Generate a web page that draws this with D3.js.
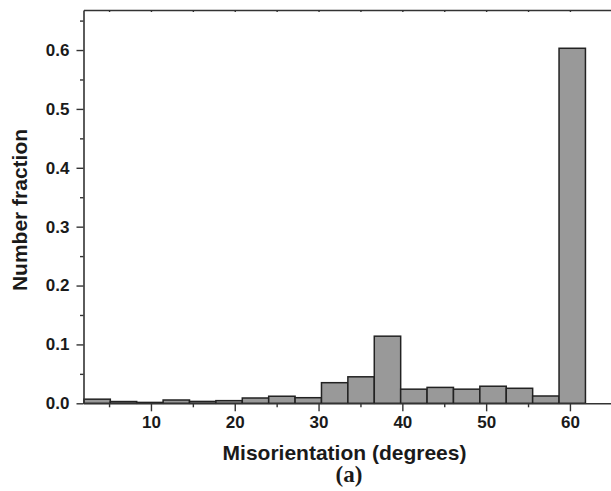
<!DOCTYPE html>
<html><head><meta charset="utf-8">
<script src="https://cdn.jsdelivr.net/npm/d3@7"></script>
<style>body{margin:0;background:#fff}svg{display:block}</style>
</head><body>
<script>
const binStarts = [2.0, 5.15, 8.3, 11.45, 14.6, 17.75, 20.9, 24.05, 27.2, 30.35, 33.5, 36.65, 39.8, 42.95, 46.1, 49.25, 52.4, 55.55, 58.7];
const binWidth = 3.15;
const fractions = [0.007, 0.003, 0.0015, 0.0056, 0.0032, 0.0045, 0.009, 0.012, 0.0095, 0.035, 0.045, 0.114, 0.024, 0.027, 0.024, 0.029, 0.0255, 0.0124, 0.603];
const xMajor = [10, 20, 30, 40, 50, 60];
const xMinor = [5, 15, 25, 35, 45, 55];
const yMajor = [0, 0.1, 0.2, 0.3, 0.4, 0.5, 0.6];
const yMinor = [0.05, 0.15, 0.25, 0.35, 0.45, 0.55, 0.65];

const W = 611, H = 491;
const L = 83.5, T = 10, B = 403.3, R = 611;
const svg = d3.select("body").append("svg").attr("width", W).attr("height", H);
const x = d3.scaleLinear().domain([1.95, 64.9]).range([L, R]);
const y = d3.scaleLinear().domain([0, 0.668]).range([B, T]);
const font = "'Liberation Sans', Arial, Helvetica, sans-serif";

// bars
svg.append("g").selectAll("rect").data(fractions).join("rect")
  .attr("x", (d, i) => x(binStarts[i]))
  .attr("width", (d, i) => x(binStarts[i] + binWidth) - x(binStarts[i]))
  .attr("y", d => y(d))
  .attr("height", d => y(0) - y(d))
  .attr("fill", "#999999").attr("stroke", "#222").attr("stroke-width", 1.5);

// x axis
svg.append("g").attr("transform", `translate(0,${B})`)
  .call(d3.axisBottom(x).tickValues(xMajor).tickSize(8).tickPadding(5).tickSizeOuter(0));
svg.append("g").attr("transform", `translate(0,${B})`)
  .call(d3.axisBottom(x).tickValues(xMinor).tickSize(4).tickFormat("").tickSizeOuter(0))
  .select(".domain").remove();
// y axis
svg.append("g").attr("transform", `translate(${L},0)`)
  .call(d3.axisLeft(y).tickValues(yMajor).tickSize(7).tickPadding(7).tickFormat(d3.format(".1f")).tickSizeOuter(0));
svg.append("g").attr("transform", `translate(${L},0)`)
  .call(d3.axisLeft(y).tickValues(yMinor).tickSize(3.5).tickFormat("").tickSizeOuter(0))
  .select(".domain").remove();
// top border with tiny ticks
svg.append("g").attr("transform", `translate(0,${T})`)
  .call(d3.axisBottom(x).tickValues(xMajor.concat(xMinor)).tickSize(2).tickFormat("").tickSizeOuter(0));

svg.selectAll(".domain").attr("stroke", "#333").attr("stroke-width", 1.6);
svg.selectAll(".tick line").attr("stroke", "#333").attr("stroke-width", 1.4);
svg.selectAll(".tick text").attr("font-family", font).attr("font-weight", "bold")
  .attr("font-size", 17).attr("fill", "#1a1a1a");

// titles
svg.append("text").attr("x", 344.5).attr("y", 459.5).attr("text-anchor", "middle")
  .attr("font-family", font).attr("font-weight", "bold").attr("font-size", 21).attr("fill", "#1a1a1a")
  .text("Misorientation (degrees)");
svg.append("text").attr("transform", "translate(27,210) rotate(-90)").attr("text-anchor", "middle")
  .attr("font-family", font).attr("font-weight", "bold").attr("font-size", 21).attr("fill", "#1a1a1a")
  .text("Number fraction");
svg.append("text").attr("x", 349).attr("y", 482).attr("text-anchor", "middle")
  .attr("font-family", "'Liberation Serif', 'Times New Roman', serif").attr("font-weight", "bold")
  .attr("font-size", 23).attr("fill", "#1a1a1a").text("(a)");
</script>
</body></html>
